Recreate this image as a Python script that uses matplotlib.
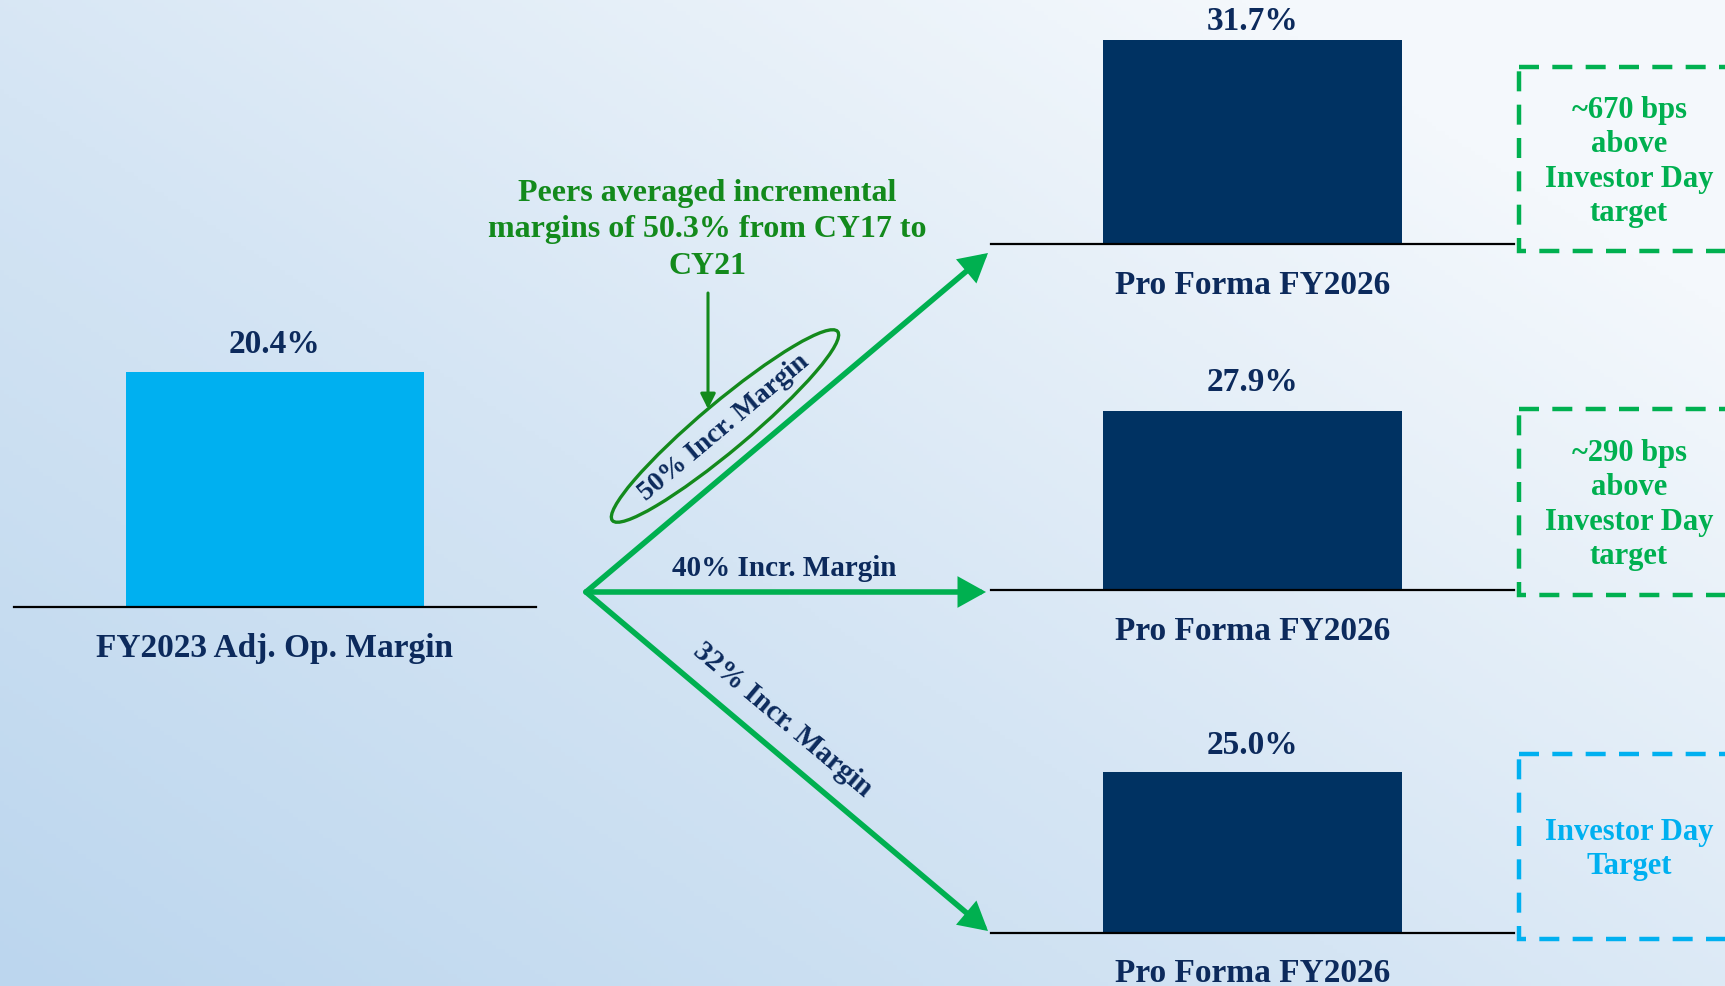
import numpy as np
import matplotlib.pyplot as plt
from matplotlib.colors import LinearSegmentedColormap
from matplotlib.patches import Ellipse, Rectangle, FancyArrowPatch

# --- Data ---
base_label = "FY2023 Adj. Op. Margin"
base_margin = 20.4

scenario_labels = ["Pro Forma FY2026", "Pro Forma FY2026", "Pro Forma FY2026"]
scenario_margins = [31.7, 27.9, 25.0]
incr_margins = ["50% Incr. Margin", "40% Incr. Margin", "32% Incr. Margin"]
box_texts = ["~670 bps\nabove\nInvestor Day\ntarget",
             "~290 bps\nabove\nInvestor Day\ntarget",
             "Investor Day\nTarget"]
peer_note = "Peers averaged incremental\nmargins of 50.3% from CY17 to\nCY21"

NAVY = '#003262'
TEXT = '#0c2a5c'
LIGHT_BLUE = '#00b0f0'
GREEN = '#00b050'
DARK_GREEN = '#138a1c'
FONT = ['Liberation Serif', 'DejaVu Serif']

W, H = 1725, 987
fig = plt.figure(figsize=(W / 100, H / 100), dpi=100)

# --- Background gradient (lighter towards top-right) ---
bg = fig.add_axes([0, 0, 1, 1])
bg.set_axis_off()
xx, yy = np.meshgrid(np.linspace(0, 1, 400), np.linspace(0, 1, 240))
t = np.clip(0.62 * xx + 0.55 * (1 - yy), 0, 1)
cmap = LinearSegmentedColormap.from_list('bg', ['#bcd6ee', '#d5e5f4', '#f4f8fc'])
bg.imshow(t, cmap=cmap, aspect='auto', extent=[0, 1, 0, 1], origin='upper')


def px_axes(x0, x1, base_y, top_y):
    # axes placed from pixel coordinates (origin top-left)
    return fig.add_axes([x0 / W, 1 - base_y / H, (x1 - x0) / W, (base_y - top_y) / H])


def draw_bar(ax, value, label, color, ymax, val_off, lab_off):
    ax.bar([0.5], [value], width=0.57, color=color)
    ax.set_xlim(0, 1)
    ax.set_ylim(0, ymax)
    ax.set_axis_off()
    ax.axhline(0, color='black', lw=1.6, clip_on=False, zorder=3)
    ax.annotate(f"{value:.1f}%", (0.5, value), xytext=(0, val_off),
                textcoords='offset pixels', ha='center', va='center',
                fontsize=24, fontweight='bold', color=TEXT, family=FONT,
                annotation_clip=False)
    ax.annotate(label, (0.5, 0), xytext=(0, -lab_off),
                textcoords='offset pixels', ha='center', va='center',
                fontsize=24, fontweight='bold', color=TEXT, family=FONT,
                annotation_clip=False)


# left bar: own scale
ax_l = px_axes(14, 536, 608, 263)
draw_bar(ax_l, base_margin, base_label, LIGHT_BLUE, 30, 29, 41)

# scenario bars share one scale
bases = [245, 591, 934]
val_offsets = [20, 29, 28]
for base, v, lab, vo in zip(bases, scenario_margins, scenario_labels, val_offsets):
    ax = px_axes(991, 1514, base, base - 225)
    draw_bar(ax, v, lab, NAVY, 35, vo, 40)

# --- Overlay in pixel coordinates: arrows, notes, boxes ---
ov = fig.add_axes([0, 0, 1, 1])
ov.set_xlim(0, W)
ov.set_ylim(H, 0)
ov.set_axis_off()
ov.patch.set_alpha(0)

origin = (586, 593)
ends = [(988, 254), (986, 593), (988, 932)]
for end in ends:
    ov.add_patch(FancyArrowPatch(origin, end, arrowstyle='-|>,head_length=9,head_width=5',
                                 color=GREEN, lw=4, shrinkA=0, shrinkB=0,
                                 mutation_scale=1.6, joinstyle='miter'))

# arrow labels
ov.text(784, 568, incr_margins[1], ha='center', va='center', fontsize=21,
        fontweight='bold', color=TEXT, family=FONT)
ov.text(783, 720, incr_margins[2], ha='center', va='center', fontsize=21,
        fontweight='bold', color=TEXT, family=FONT, rotation=-40,
        rotation_mode='anchor')
ov.text(724, 428, incr_margins[0], ha='center', va='center', fontsize=20,
        fontweight='bold', color=TEXT, family=FONT, rotation=40,
        rotation_mode='anchor')
ov.add_patch(Ellipse((725, 427), 294, 48, angle=-40, fill=False,
                     ec=DARK_GREEN, lw=2.4))

# peers note with pointer
ov.text(707, 230, peer_note, ha='center', va='center', fontsize=23,
        fontweight='bold', color=DARK_GREEN, family=FONT, linespacing=1.33)
ov.annotate('', xy=(708, 410), xytext=(708, 294),
            arrowprops=dict(arrowstyle='-|>,head_length=0.9,head_width=0.45',
                            color=DARK_GREEN, lw=2.2, shrinkA=0, shrinkB=0))

# dashed callout boxes
box_spans = [(68, 252), (410, 596), (755, 940)]
box_colors = [GREEN, GREEN, LIGHT_BLUE]
for (y0, y1), txt, c in zip(box_spans, box_texts, box_colors):
    ov.add_patch(Rectangle((1519, y0), 300, y1 - y0, fill=False, ec=c, lw=3.2,
                           ls=(0, (4.5, 3))))
    ov.text(1629, (y0 + y1) / 2 + 2, txt, ha='center', va='center', fontsize=22,
            fontweight='bold', color=c, family=FONT, linespacing=1.24)

fig.savefig('out.png', dpi=100)
